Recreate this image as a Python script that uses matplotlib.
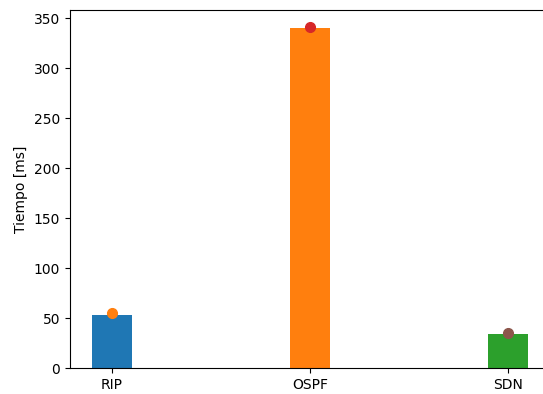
import matplotlib
matplotlib.use("Agg")
import matplotlib.pyplot as plt

protocols = ["RIP", "OSPF", "SDN"]
bar_values = [53, 340, 34]
point_values = [55, 341, 35]
bar_colors = ["#1f77b4", "#ff7f0e", "#2ca02c"]
point_colors = ["#ff7f0e", "#d62728", "#8c564b"]

fig = plt.figure(figsize=(5.43, 3.94), dpi=100)
ax = fig.add_axes([70 / 543, 26 / 394, 480 / 543, 358 / 394])

x = range(len(protocols))
ax.bar(x, bar_values, width=0.2, color=bar_colors)
for xi, v, c in zip(x, point_values, point_colors):
    ax.plot(xi, v, "o", color=c, markersize=7)

ax.set_xticks(list(x))
ax.set_xticklabels(protocols)
ax.set_xlim(-0.212, 2.212)
ax.set_ylim(0, 358)
ax.set_ylabel("Tiempo [ms]")

fig.savefig("out.png", dpi=100)
